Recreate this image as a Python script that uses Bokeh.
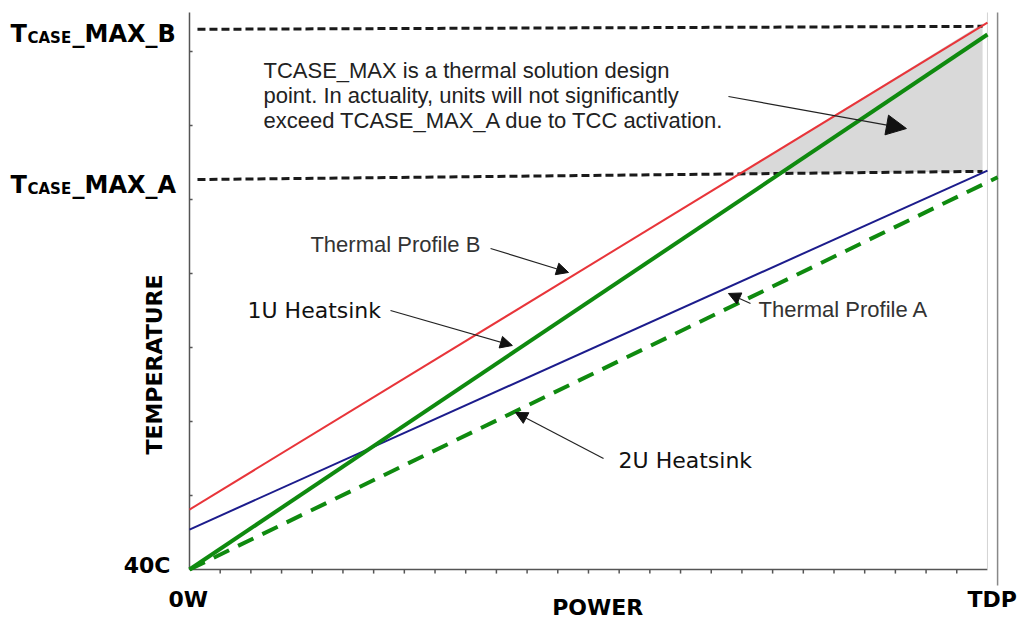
import math
from bokeh.plotting import figure
from bokeh.models import Range1d, Label, Arrow, NormalHead
from bokeh.embed import file_html
from bokeh.resources import INLINE

# ---- data (x: power steps, 0 = 0W, 26 = TDP; y: temperature scale, 40 = 40C) ----
power_ticks = list(range(1, 26))
temp_ticks = [50, 60, 70, 80, 90, 100, 110]

profile_b_x = [0, 26]
profile_b_y = [48.1, 113.9]
profile_a_x = [0, 26]
profile_a_y = [45.4, 93.9]
hs1u_x = [0, 26]
hs1u_y = [40, 112.3]
hs2u_x = [0, 26.33]
hs2u_y = [40, 93.0]
tcase_b_x = [0.26, 25.84]
tcase_b_y = [113.0, 113.4]
tcase_a_x = [0.26, 25.84]
tcase_a_y = [92.7, 93.8]
shade_x = [17.92, 25.84, 25.84]
shade_y = [93.46, 113.8, 93.78]
x_min, x_tdp = 0, 26
y_min, y_top = 40, 115.27
guide_x = [26, 26.33]          # right-hand vertical guide lines
guide_bottom = 37.84

note_lines = [
    "TCASE_MAX is a thermal solution design",
    "point. In actuality, units will not significantly",
    "exceed TCASE_MAX_A due to TCC activation.",
]
note_y = [106.35, 102.97, 99.59]

# whole canvas is the plotting frame, so every text stays inside it
p = figure(width=1024, height=636,
           x_range=Range1d(-6.158, 27.207), y_range=Range1d(30.946, 116.892),
           output_backend="svg", toolbar_location=None,
           x_axis_location=None, y_axis_location=None,
           min_border=0)
p.outline_line_color = None
p.grid.visible = False
p.background_fill_color = "white"
p.border_fill_color = "white"

# shaded area
p.patch(shade_x, shade_y, fill_color="#d9d9d9", line_color=None)

# axes (drawn in data space)
ax_col = "#555555"
p.line([x_min, x_tdp], [y_min, y_min], line_color=ax_col, line_width=1.5)
p.line([x_min, x_min], [y_min, y_top], line_color=ax_col, line_width=1.5)
p.segment(x0=power_ticks, y0=[y_min] * len(power_ticks),
          x1=power_ticks, y1=[y_min - 0.55] * len(power_ticks),
          line_color=ax_col, line_width=1.5)
p.segment(x0=[x_min] * len(temp_ticks), y0=temp_ticks,
          x1=[x_min + 0.1] * len(temp_ticks), y1=temp_ticks,
          line_color=ax_col, line_width=1.5)

# right guide lines
p.line([guide_x[0], guide_x[0]], [y_min, y_top], line_color="#d4d4d4", line_width=1)
p.line([guide_x[1], guide_x[1]], [guide_bottom, y_top], line_color="#888888", line_width=1.5)

# TCASE max dashed lines
p.line(tcase_b_x, tcase_b_y, line_color="#1a1a1a", line_width=3, line_dash="8 4")
p.line(tcase_a_x, tcase_a_y, line_color="#1a1a1a", line_width=3, line_dash="8 4")

# series
p.line(hs2u_x, hs2u_y, line_color="#0f8a0f", line_width=4, line_dash="17 10")
p.line(profile_a_x, profile_a_y, line_color="#1c1c8c", line_width=2)
p.line(hs1u_x, hs1u_y, line_color="#0f8a0f", line_width=4)
p.line(profile_b_x, profile_b_y, line_color="#e8353a", line_width=2)

BASE_FIX = 8  # label baseline correction (px, upwards)


def lab(text, x, y, size, font="DejaVu Sans", bold=False, color="black",
        align="left", baseline="alphabetic", xo=0, yo=0, angle=0):
    if baseline == "alphabetic":
        yo = yo + BASE_FIX
    p.add_layout(Label(x=x, y=y, text=text, text_font=font,
                       text_font_size=f"{size}px",
                       text_font_style="bold" if bold else "normal",
                       text_color=color, text_align=align, text_baseline=baseline,
                       x_offset=xo, y_offset=yo, angle=angle))


# TCASE labels with subscript
for lvl_y, suffix in ((tcase_b_y[0], "_MAX_B"), (tcase_a_y[0], "_MAX_A")):
    lab("T", 0, lvl_y, 24, bold=True, xo=-179, yo=-13)
    lab("CASE", 0, lvl_y, 15, bold=True, xo=-162, yo=-17)
    lab(suffix, 0, lvl_y, 24, bold=True, xo=-117, yo=-13)

lab("40C", 0, y_min, 22, bold=True, align="right", xo=-19, yo=-4)
lab("0W", 0, y_min, 22, bold=True, xo=-21, yo=-38)
lab("POWER", 13.3, y_min, 22, bold=True, align="center", yo=-46)
lab("TDP", x_tdp, y_min, 22, bold=True, xo=-20, yo=-38)
lab("TEMPERATURE", 0, 67.7, 22, bold=True, align="center", baseline="middle",
    xo=-35, angle=math.pi / 2)

# note text
for t, yy in zip(note_lines, note_y):
    lab(t, 2.41, yy, 22, font="Liberation Sans", color="#222222")

# series labels
lab("Thermal Profile B", 3.94, 82.84, 22, font="Liberation Sans", color="#333333")
lab("1U Heatsink", 1.89, 73.92, 22, font="DejaVu Sans", color="#111111")
lab("Thermal Profile A", 18.54, 74.05, 22, font="Liberation Sans", color="#333333")
lab("2U Heatsink", 13.98, 53.65, 22, font="DejaVu Sans", color="#111111")


def arrow(x0, y0, x1, y1, size=12):
    p.add_layout(Arrow(end=NormalHead(size=size, fill_color="#111111", line_color="#111111"),
                       x_start=x0, y_start=y0, x_end=x1, y_end=y1,
                       line_color="#222222", line_width=1.2))


arrow(17.56, 103.92, 23.36, 99.59, size=20)
arrow(9.81, 83.38, 12.35, 80.14)
arrow(6.55, 75.0, 10.52, 70.27)
arrow(18.28, 75.95, 17.56, 77.30)
arrow(13.49, 55.0, 10.62, 61.22)

open("out.html", "w").write(file_html(p, INLINE))
